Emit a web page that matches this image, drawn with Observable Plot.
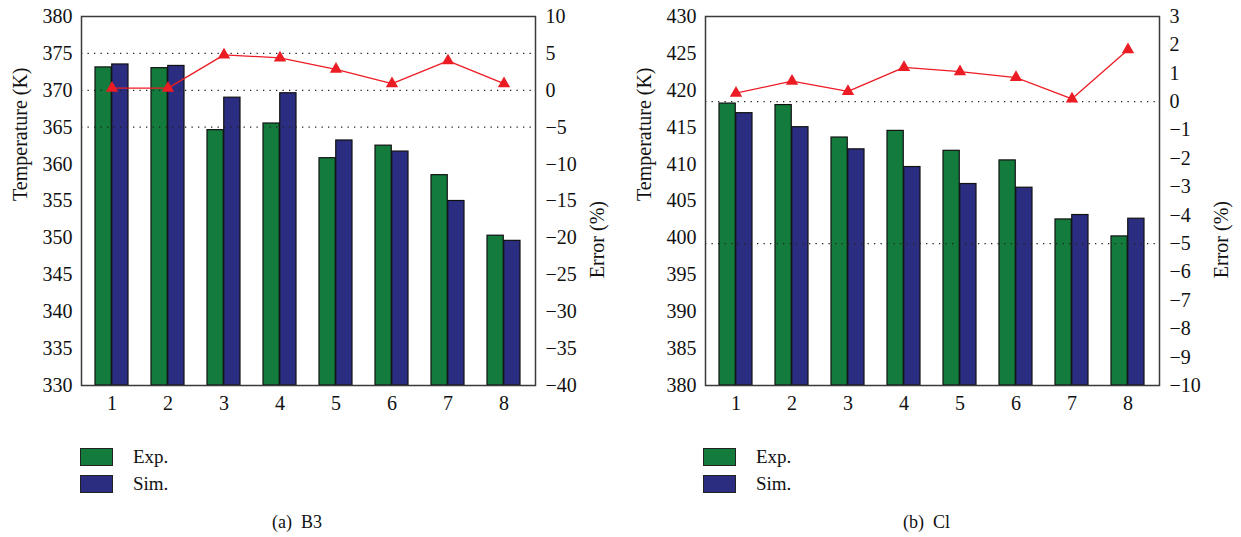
<!DOCTYPE html>
<html>
<head>
<meta charset="utf-8">
<script src="https://cdn.jsdelivr.net/npm/d3@7"></script>
<script src="https://cdn.jsdelivr.net/npm/@observablehq/plot@0.6"></script>
<style>
  body { margin: 0; background: #fff; }
  #wrap { position: relative; width: 1241px; height: 537px; font-family: "Liberation Serif", serif; color: #111; }
  #wrap svg, #wrap svg text { font-family: "Liberation Serif", serif !important; }
  .panel { position: absolute; top: 0; }
  .sw { position: absolute; width: 31px; height: 16px; border: 1px solid #222; }
  .lt { position: absolute; font-size: 19px; line-height: 19px; }
  .cap { position: absolute; font-size: 18px; white-space: pre; }
</style>
</head>
<body>
<div id="wrap"></div>
<script>
// ---- data ----
const categories = ["1", "2", "3", "4", "5", "6", "7", "8"];
const seriesNames = ["Exp.", "Sim."];
// panel (a) B3
const expA = [373.1, 373.0, 364.6, 365.5, 360.8, 362.5, 358.5, 350.3];
const simA = [373.5, 373.3, 369.0, 369.6, 363.2, 361.7, 355.0, 349.6];
const errA = [0.3, 0.3, 4.8, 4.4, 2.85, 0.9, 4.0, 0.9];
const tempTicksA = [330, 335, 340, 345, 350, 355, 360, 365, 370, 375, 380];
const errTicksA = [10, 5, 0, -5, -10, -15, -20, -25, -30, -35, -40];
// panel (b) C1
const expB = [418.2, 418.0, 413.6, 414.5, 411.8, 410.5, 402.5, 400.2];
const simB = [416.9, 415.0, 412.0, 409.6, 407.3, 406.8, 403.1, 402.6];
const errB = [0.3, 0.72, 0.36, 1.21, 1.06, 0.85, 0.1, 1.83];
const tempTicksB = [380, 385, 390, 395, 400, 405, 410, 415, 420, 425, 430];
const errTicksB = [3, 2, 1, 0, -1, -2, -3, -4, -5, -6, -7, -8, -9, -10];
const errRefLines = [5, 0, -5];
const captions = ["(a)  B3", "(b)  Cl"];

const GREEN = "#137c3d", BLUE = "#2b2e80", RED = "#ec1c24";
const FONT = '"Liberation Serif", serif';

function fmt(v) {
  const r = Math.round(v * 1000) / 1000;
  return r < 0 ? "\u2212" + Math.abs(r) : String(r);
}

function panel({exp, sim, err, tempTicks, errTicks, width, ml, mr}) {
  const height = 420, mt = 16, mb = 35;
  const tMin = tempTicks[0], tMax = tempTicks[tempTicks.length - 1];
  const eMin = errTicks[errTicks.length - 1], eMax = errTicks[0];
  const toT = e => tMin + (e - eMin) * (tMax - tMin) / (eMax - eMin);
  const toE = t => eMin + (t - tMin) * (eMax - eMin) / (tMax - tMin);
  const padIn = 0.41;
  const step = (width - ml - mr) / categories.length;
  const half = step * (1 - padIn) / 2;
  const rows = categories.map((c, i) => ({c, exp: exp[i], sim: sim[i], err: err[i]}));
  const refs = errRefLines.filter(e => e >= eMin && e <= eMax);
  return Plot.plot({
    width, height, marginLeft: ml, marginRight: mr, marginTop: mt, marginBottom: mb,
    style: {fontFamily: FONT, fontSize: "20px", color: "#111", background: "#fff"},
    x: {type: "band", domain: categories, paddingInner: padIn, paddingOuter: padIn / 2, axis: null},
    y: {domain: [tMin, tMax], axis: null},
    marks: [
      Plot.barY(rows, {x: "c", y1: () => tMin, y2: "exp", fill: GREEN, stroke: "#111", strokeWidth: 1.2, insetRight: half}),
      Plot.barY(rows, {x: "c", y1: () => tMin, y2: "sim", fill: BLUE, stroke: "#111", strokeWidth: 1.2, insetLeft: half}),
      Plot.ruleY(refs, {y: d => toT(d), stroke: "#222", strokeWidth: 1.3, strokeDasharray: "1.3,5.2"}),
      Plot.line(rows, {x: "c", y: d => toT(d.err), stroke: RED, strokeWidth: 1.3}),
      Plot.dot(rows, {x: "c", y: d => toT(d.err), symbol: "triangle", r: 4.6, fill: RED, stroke: "none"}),
      Plot.frame({stroke: "#3a3a3a", strokeWidth: 1.5}),
      Plot.axisX({domain: categories, tickSize: 0, tickPadding: 10, label: null, fontFamily: FONT}),
      Plot.axisY({anchor: "left", ticks: tempTicks, tickSize: 0, tickPadding: 9, label: null, fontFamily: FONT}),
      Plot.axisY({anchor: "right", ticks: errTicks.map(toT), tickFormat: d => fmt(toE(d)), tickSize: 0, tickPadding: 10, label: null, fontFamily: FONT}),
      Plot.text(["Temperature (K)"], {frameAnchor: "left", dx: -61, rotate: -90, text: d => d, fontSize: 20, fontFamily: FONT}),
      Plot.text(["Error (%)"], {frameAnchor: "right", dx: 62, rotate: -90, text: d => d, fontSize: 20, fontFamily: FONT})
    ]
  });
}

const wrap = document.getElementById("wrap");
const pa = panel({exp: expA, sim: simA, err: errA, tempTicks: tempTicksA, errTicks: errTicksA, width: 620, ml: 81, mr: 85});
pa.classList.add("panel"); pa.style.left = "0px";
wrap.appendChild(pa);
const pb = panel({exp: expB, sim: simB, err: errB, tempTicks: tempTicksB, errTicks: errTicksB, width: 621, ml: 85, mr: 82});
pb.classList.add("panel"); pb.style.left = "620px";
wrap.appendChild(pb);

// legends + captions
const colors = [GREEN, BLUE];
[{x: 80, cx: 272}, {x: 703, cx: 903}].forEach((p, k) => {
  seriesNames.forEach((name, i) => {
    const sw = document.createElement("div");
    sw.className = "sw"; sw.style.left = p.x + "px"; sw.style.top = (448 + i * 27) + "px";
    sw.style.background = colors[i];
    wrap.appendChild(sw);
    const t = document.createElement("div");
    t.className = "lt"; t.textContent = name;
    t.style.left = (p.x + 53) + "px"; t.style.top = (447 + i * 27) + "px";
    wrap.appendChild(t);
  });
  const c = document.createElement("div");
  c.className = "cap"; c.textContent = captions[k];
  c.style.left = p.cx + "px"; c.style.top = "512px";
  wrap.appendChild(c);
});
</script>
</body>
</html>
